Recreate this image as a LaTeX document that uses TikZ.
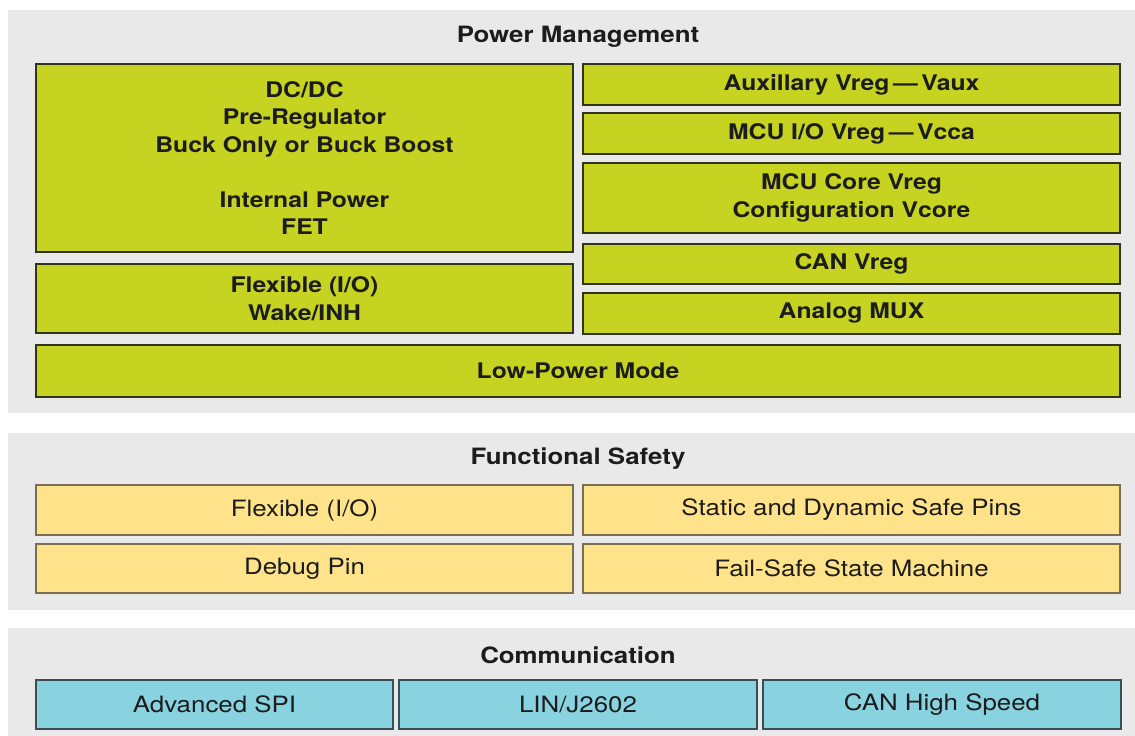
\documentclass[tikz,border=0pt]{standalone}
\usepackage{fontspec}
\setmainfont[FakeStretch=1.15]{TeX Gyre Heros}
\definecolor{panelgray}{RGB}{233,233,234}
\definecolor{pgreen}{RGB}{198,211,32}
\definecolor{pgreenline}{RGB}{50,52,30}
\definecolor{pyellow}{RGB}{254,227,138}
\definecolor{pyellowline}{RGB}{122,110,80}
\definecolor{pcyan}{RGB}{136,211,223}
\definecolor{pcyanline}{RGB}{58,78,84}
\definecolor{ptext}{RGB}{28,28,28}
\tikzset{
  panel/.style={fill=panelgray, draw=none},
  titletext/.style={font=\fontsize{22.5}{27.5}\selectfont\bfseries, text=ptext, inner sep=0pt},
  gbox/.style={draw=pgreenline, fill=pgreen, line width=1.6pt, align=center, inner sep=0pt,
    font=\fontsize{21.5}{27.5}\selectfont\bfseries, text=ptext},
  ybox/.style={draw=pyellowline, fill=pyellow, line width=1.4pt, align=center, inner sep=0pt,
    font=\fontsize{22.5}{27.5}\selectfont, text=ptext},
  cbox/.style={draw=pcyanline, fill=pcyan, line width=1.4pt, align=center, inner sep=0pt,
    font=\fontsize{22.5}{27.5}\selectfont, text=ptext},
}
\begin{document}
\begin{tikzpicture}[x=1pt,y=-1pt]
\useasboundingbox (0,0) rectangle (1135,736);
\fill[white] (0,0) rectangle (1135,736);
% panels
\fill[panel] (8,10) rectangle (1135,413);
\fill[panel] (8,433) rectangle (1135,610);
\fill[panel] (8,628) rectangle (1135,736);
% titles
\node[titletext] (tpm) at (578,37) {Power Management};
\node[titletext] (tfs) at (578,459) {Functional Safety};
\node[titletext] (tcom) at (578,655) {Communication};
% power management
\node[gbox, minimum width=537pt, minimum height=188pt] (dcdc) at (304.5,158)
  {DC/DC\\Pre-Regulator\\Buck Only or Buck Boost\\[27.5pt]Internal Power\\FET};
\node[gbox, minimum width=537pt, minimum height=69pt] (flexwake) at (304.5,298.5)
  {Flexible (I/O)\\Wake/INH};
\node[gbox, minimum width=1084pt, minimum height=52pt] (lowpow) at (578,371) {Low-Power Mode};
\node[gbox, minimum width=537pt, minimum height=41pt] (aux) at (851.5,84.5) {Auxillary Vreg\,---\,Vaux};
\node[gbox, minimum width=537pt, minimum height=41pt] (mcuio) at (851.5,133.5) {MCU I/O Vreg\,---\,Vcca};
\node[gbox, minimum width=537pt, minimum height=70pt] (core) at (851.5,198) {MCU Core Vreg\\Configuration Vcore};
\node[gbox, minimum width=537pt, minimum height=40pt] (canv) at (851.5,264) {CAN Vreg};
\node[gbox, minimum width=537pt, minimum height=41pt] (amux) at (851.5,313.5) {Analog MUX};
% functional safety
\node[ybox, minimum width=537pt, minimum height=50pt] (fsflex) at (304.5,510) {Flexible (I/O)};
\node[ybox, minimum width=537pt, minimum height=50pt] (safepins) at (851.5,510) {Static and Dynamic Safe Pins};
\node[ybox, minimum width=537pt, minimum height=49pt] (debug) at (304.5,568.5) {Debug Pin};
\node[ybox, minimum width=537pt, minimum height=49pt] (failsafe) at (851.5,568.5) {Fail-Safe State Machine};
% communication
\node[cbox, minimum width=357pt, minimum height=49pt] (spi) at (214.5,704.5) {Advanced SPI};
\node[cbox, minimum width=358pt, minimum height=49pt] (lin) at (578,704.5) {LIN/J2602};
\node[cbox, minimum width=358pt, minimum height=49pt] (canhs) at (942,704.5) {CAN High Speed};
\end{tikzpicture}
\end{document}
